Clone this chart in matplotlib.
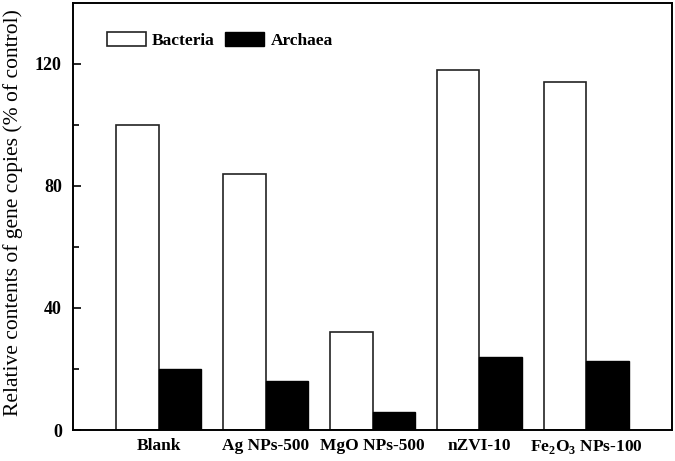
import matplotlib.pyplot as plt
import numpy as np

plt.rcParams['font.family'] = 'Liberation Serif'
plt.rcParams['mathtext.fontset'] = 'custom'
plt.rcParams['mathtext.rm'] = 'Liberation Serif'
plt.rcParams['mathtext.bf'] = 'Liberation Serif:bold'

categories = ['Blank', 'Ag NPs-500', 'MgO NPs-500', 'nZVI-10', r'Fe$_\mathbf{2}$O$_\mathbf{3}$ NPs-100']
bacteria = [100, 84, 32, 118, 114]
archaea = [20, 16, 6, 24, 22.5]

fig = plt.figure(figsize=(6.75, 4.61), dpi=100)
ax = fig.add_axes([73 / 675, 31 / 461, 599 / 675, 427 / 461])

x = np.arange(len(categories))
w = 0.40
ax.bar(x - w / 2, bacteria, w, color='white', edgecolor='#222222', linewidth=1.2, label='Bacteria')
ax.bar(x + w / 2, archaea, w, color='black', edgecolor='black', linewidth=1.0, label='Archaea')

ax.set_xlim(-0.8, 4.8)
ax.set_ylim(0, 140)
ax.set_yticks([0, 40, 80, 120])
ax.set_yticks([20, 60, 100], minor=True)
ax.set_xticks(x)
ax.set_xticklabels(categories, fontsize=12.5, fontweight='bold')
ax.tick_params(axis='x', length=0, pad=6)
ax.tick_params(axis='y', direction='in', length=6, width=1.2, labelsize=13, pad=8)
ax.tick_params(axis='y', which='minor', direction='in', length=4, width=1.2)
for lab in ax.get_yticklabels():
    lab.set_fontweight('bold')
for s in ax.spines.values():
    s.set_linewidth(1.4)

ax.set_ylabel('Relative contents of gene copies (% of control)', fontsize=15.5)
ax.yaxis.set_label_coords(-0.083, 0.51)

leg = ax.legend(loc='center left', ncol=2, frameon=False, bbox_to_anchor=(0.03, 0.912),
                handlelength=2.25, handleheight=0.86, columnspacing=0.63, handletextpad=0.35,
                prop={'weight': 'bold', 'size': 12.5})

fig.savefig('out.png', dpi=100)
